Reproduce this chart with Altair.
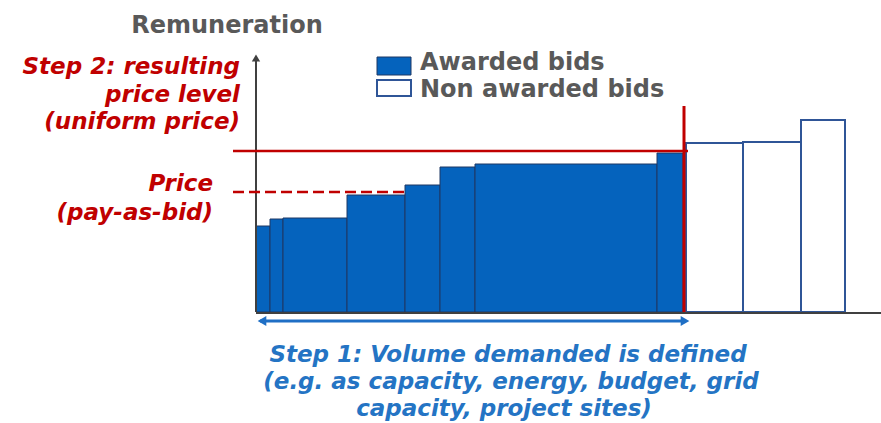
import altair as alt
import pandas as pd
import numpy as np

# ---- data (volume units along x, remuneration units along y) ----
awarded_volumes = [14, 13, 64, 58, 35, 35, 182, 26]
awarded_prices = [86, 93, 94, 117, 127, 145, 148, 159]
gap_after_demand = 3
non_awarded_volumes = [57, 58, 44]
non_awarded_prices = [169, 170, 192]
demand_volume = 428
uniform_price = 161
pay_as_bid_price = 120

X_MAX = 625
Y_MAX = 257

# build bar table
aw_edges = np.concatenate([[0], np.cumsum(awarded_volumes)])
na_start = aw_edges[-1] + gap_after_demand
na_edges = np.concatenate([[na_start], na_start + np.cumsum(non_awarded_volumes)])
bars = pd.DataFrame({
    "x0": list(aw_edges[:-1]) + list(na_edges[:-1]),
    "x1": list(aw_edges[1:]) + list(na_edges[1:]),
    "price": awarded_prices + non_awarded_prices,
    "status": ["Awarded"] * len(awarded_prices) + ["Non awarded"] * len(non_awarded_prices),
})

xs = alt.Scale(domain=[0, X_MAX], range=[256, 881], nice=False, zero=False)
ys = alt.Scale(domain=[0, Y_MAX], range=[312, 55], nice=False, zero=False)
noax = None

RED = "#c00000"
BLUE_TXT = "#2474c4"
BAR_BLUE = "#0563bd"
GRAY = "#595959"
AXIS = "#404040"
FONT = "DejaVu Sans"

base = alt.Chart(bars)

awarded = base.transform_filter(alt.datum.status == "Awarded").mark_rect(
    fill=BAR_BLUE, stroke="#1f3864", strokeWidth=1
).encode(
    x=alt.X("x0:Q", scale=xs, axis=noax), x2="x1:Q",
    y=alt.Y("price:Q", scale=ys, axis=noax), y2=alt.datum(0),
)
non_awarded = base.transform_filter(alt.datum.status == "Non awarded").mark_rect(
    fill="white", stroke="#2f5597", strokeWidth=2
).encode(
    x=alt.X("x0:Q", scale=xs, axis=noax), x2="x1:Q",
    y=alt.Y("price:Q", scale=ys, axis=noax), y2=alt.datum(0),
)

one = pd.DataFrame({"k": [0]})
c1 = alt.Chart(one)

# axes
y_axis = c1.mark_rule(color=AXIS, strokeWidth=2).encode(
    x=alt.datum(0, scale=xs), y=alt.datum(0, scale=ys), y2=alt.datum(Y_MAX - 3))
y_head = c1.mark_point(shape="triangle-up", filled=True, color=AXIS, size=70, opacity=1).encode(
    x=alt.datum(0, scale=xs), y=alt.datum(Y_MAX - 3, scale=ys))
x_axis = c1.mark_rule(color=AXIS, strokeWidth=2).encode(
    x=alt.datum(0, scale=xs), x2=alt.datum(X_MAX), y=alt.datum(-1, scale=ys))

# red price lines
uni = c1.mark_rule(color=RED, strokeWidth=2.5).encode(
    x=alt.datum(-23, scale=xs), x2=alt.datum(demand_volume + 4), y=alt.datum(uniform_price, scale=ys))
pab = c1.mark_rule(color=RED, strokeWidth=2.5, strokeDash=[11, 5]).encode(
    x=alt.datum(-23, scale=xs), x2=alt.datum(aw_edges[4]), y=alt.datum(pay_as_bid_price, scale=ys))
dem = c1.mark_rule(color=RED, strokeWidth=3).encode(
    x=alt.datum(demand_volume, scale=xs), y=alt.datum(0, scale=ys), y2=alt.datum(206))

# blue double arrow for volume
ARROW = "#1f6fc5"
arr = c1.mark_rule(color=ARROW, strokeWidth=3).encode(
    x=alt.datum(4, scale=xs), x2=alt.datum(demand_volume + 2), y=alt.datum(-9, scale=ys))
arr_l = c1.mark_point(shape="triangle-left", filled=True, color=ARROW, size=100, opacity=1).encode(
    x=alt.datum(6, scale=xs), y=alt.datum(-9, scale=ys))
arr_r = c1.mark_point(shape="triangle-right", filled=True, color=ARROW, size=100, opacity=1).encode(
    x=alt.datum(demand_volume + 1, scale=xs), y=alt.datum(-9, scale=ys))

# legend
leg_fill = c1.mark_rect(fill=BAR_BLUE, stroke="#1f3864", strokeWidth=1).encode(
    x=alt.value(377), x2=alt.value(411), y=alt.value(57), y2=alt.value(75))
leg_empty = c1.mark_rect(fill="white", stroke="#2f5597", strokeWidth=2).encode(
    x=alt.value(377), x2=alt.value(411), y=alt.value(80), y2=alt.value(96))


def txt(s, x, y, color, align="left", italic=True, size=23):
    return c1.mark_text(text=s, align=align, baseline="middle", font=FONT, fontSize=size,
                        fontWeight="bold", fontStyle="italic" if italic else "normal",
                        color=color).encode(x=alt.value(x), y=alt.value(y))


texts = [
    txt("Remuneration", 227, 26, GRAY, "center", italic=False, size=24),
    txt("Awarded bids", 420, 63, GRAY, italic=False, size=24),
    txt("Non awarded bids", 420, 90, GRAY, italic=False, size=24),
    txt("Step 2: resulting", 240, 67, RED, "right"),
    txt("price level", 240, 95, RED, "right"),
    txt("(uniform price)", 240, 122, RED, "right"),
    txt("Price", 213, 184, RED, "right"),
    txt("(pay-as-bid)", 213, 213, RED, "right"),
    txt("Step 1: Volume demanded is defined", 508, 355, BLUE_TXT, "center"),
    txt("(e.g. as capacity, energy, budget, grid", 511, 382, BLUE_TXT, "center"),
    txt("capacity, project sites)", 504, 409, BLUE_TXT, "center"),
]

chart = alt.layer(
    awarded, non_awarded, y_axis, y_head, x_axis, uni, pab, dem, arr, arr_l, arr_r,
    leg_fill, leg_empty, *texts
).properties(
    width=881, height=423, padding=0, autosize=alt.AutoSizeParams(type="none"),
    background="white"
).configure_view(stroke=None)

chart.save("out.html", embed_options={"renderer": "svg", "actions": False})
